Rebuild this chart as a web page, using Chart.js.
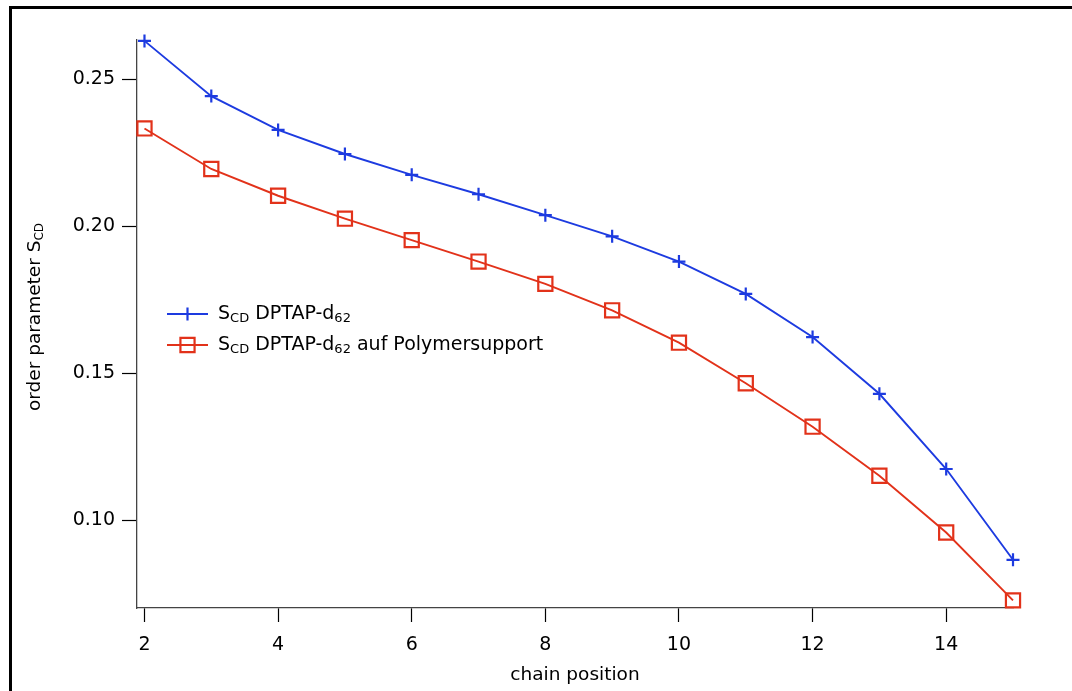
<!DOCTYPE html>
<html>
<head>
<meta charset="utf-8">
<script src="https://cdn.jsdelivr.net/npm/chart.js@4"></script>
<style>
  html, body { margin: 0; padding: 0; background: #fff; }
  #wrap { position: relative; width: 1072px; height: 691px; overflow: hidden; }
  #frame { position: absolute; left: 9px; top: 6px; width: 1100px; height: 720px;
           border-top: 3px solid #000; border-left: 3px solid #000; box-sizing: border-box; }
  canvas { position: absolute; left: 0; top: 0; }
</style>
</head>
<body>
<div id="wrap">
  <div id="frame"></div>
  <canvas id="c" width="1072" height="691"></canvas>
</div>
<script>
// chain positions and order parameters
var positions = [2, 3, 4, 5, 6, 7, 8, 9, 10, 11, 12, 13, 14, 15];
var scdPure   = [0.2631, 0.2443, 0.2328, 0.2246, 0.2175, 0.2109, 0.2038, 0.1966, 0.1880, 0.1770, 0.1623, 0.1430, 0.1174, 0.0865];
var scdPolym  = [0.2333, 0.2195, 0.2104, 0.2026, 0.1953, 0.1880, 0.1804, 0.1714, 0.1604, 0.1466, 0.1318, 0.1151, 0.0958, 0.0727];
var xTicks = [2, 4, 6, 8, 10, 12, 14];
var yTicks = [0.10, 0.15, 0.20, 0.25];

var BLUE = '#1d3be0', RED = '#e2321a';
var FONT = '"DejaVu Sans", "Liberation Sans", Arial, sans-serif';

function pts(ys) { return positions.map(function (x, i) { return { x: x, y: ys[i] }; }); }

// plain text pieces with subscripts, e.g. S + CD
function richText(ctx, x, y, parts, big, small) {
    parts.forEach(function (p) {
        ctx.font = (p.sub ? small : big) + 'px ' + FONT;
        ctx.fillText(p.t, x, y + (p.sub ? 5 : 0));
        x += ctx.measureText(p.t).width;
    });
}

var extras = {
    id: 'extras',
    afterDraw: function (chart) {
        var ctx = chart.ctx;
        ctx.save();
        ctx.textBaseline = 'middle';

        // legend
        var rows = [
            { color: BLUE, style: 'cross', radius: 6.5, parts: [{ t: 'S' }, { t: 'CD', sub: true }, { t: ' DPTAP-d' }, { t: '62', sub: true }] },
            { color: RED, style: 'rect', radius: 10, parts: [{ t: 'S' }, { t: 'CD', sub: true }, { t: ' DPTAP-d' }, { t: '62', sub: true }, { t: ' auf Polymersupport' }] }
        ];
        rows.forEach(function (r, i) {
            var y = 314 + i * 31;
            ctx.strokeStyle = r.color;
            ctx.fillStyle = 'rgba(0,0,0,0)';
            ctx.lineWidth = 1.9;
            ctx.beginPath(); ctx.moveTo(167, y); ctx.lineTo(208, y); ctx.stroke();
            ctx.lineWidth = 2.2;
            Chart.helpers.drawPoint(ctx, { pointStyle: r.style, radius: r.radius, borderWidth: 2.2, rotation: 0 }, 187.5, y);
            ctx.fillStyle = '#000';
            richText(ctx, 218, y, r.parts, 19, 13);
        });

        // y axis title, rotated, with subscript
        ctx.translate(35, 317);
        ctx.rotate(-Math.PI / 2);
        ctx.textAlign = 'left';
        var parts = [{ t: 'order parameter S' }, { t: 'CD', sub: true }];
        var w = 0;
        parts.forEach(function (p) { ctx.font = (p.sub ? 12 : 18.5) + 'px ' + FONT; w += ctx.measureText(p.t).width; });
        richText(ctx, -w / 2, 0, parts, 18.5, 12);
        ctx.restore();
    }
};

new Chart(document.getElementById('c'), {
    type: 'line',
    data: {
        datasets: [
            { label: 'SCD DPTAP-d62', data: pts(scdPure), borderColor: BLUE, backgroundColor: BLUE,
              borderWidth: 1.9, pointStyle: 'cross', pointRadius: 6.5, pointBorderWidth: 2.2, tension: 0, clip: false },
            { label: 'SCD DPTAP-d62 auf Polymersupport', data: pts(scdPolym), borderColor: RED, backgroundColor: 'rgba(0,0,0,0)',
              borderWidth: 1.9, pointStyle: 'rect', pointRadius: 10, pointBorderWidth: 2.2, tension: 0, clip: false }
        ]
    },
    options: {
        responsive: false,
        animation: false,
        layout: { padding: { top: 40, right: 59, left: 0, bottom: 0 } },
        plugins: { legend: { display: false }, tooltip: { enabled: false } },
        scales: {
            x: {
                type: 'linear', min: 1.888, max: 15,
                afterFit: function (s) { s.height = 83; },
                afterBuildTicks: function (s) { s.ticks = xTicks.map(function (v) { return { value: v }; }); },
                grid: { drawOnChartArea: false, drawTicks: true, tickLength: 14, tickColor: '#000', tickWidth: 1.2 },
                border: { display: true, color: '#444', width: 1.3 },
                ticks: { color: '#000', font: { family: FONT, size: 19 }, padding: 12, maxRotation: 0 },
                title: { display: true, text: 'chain position', color: '#000', font: { family: FONT, size: 18.5 }, padding: { top: 0, bottom: 5 } }
            },
            y: {
                type: 'linear', min: 0.0701, max: 0.2634,
                afterFit: function (s) { s.width = 137; },
                afterBuildTicks: function (s) { s.ticks = yTicks.map(function (v) { return { value: v }; }); },
                grid: { drawOnChartArea: false, drawTicks: true, tickLength: 15, tickColor: '#000', tickWidth: 1.2 },
                border: { display: true, color: '#444', width: 1.3 },
                ticks: { color: '#000', font: { family: FONT, size: 19 }, padding: 7,
                         callback: function (v) { return v.toFixed(2); } }
            }
        }
    },
    plugins: [extras]
});
</script>
</body>
</html>
